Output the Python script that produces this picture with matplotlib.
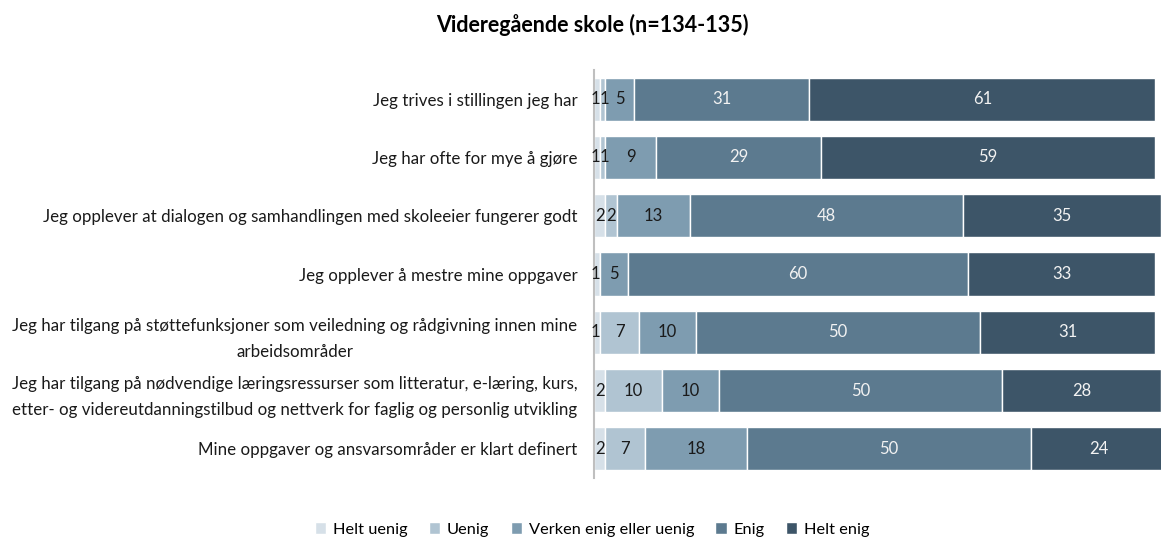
import matplotlib
matplotlib.use("Agg")
import matplotlib.pyplot as plt
import numpy as np

plt.rcParams["font.family"] = ["Lato", "DejaVu Sans"]

# ── Data ─────────────────────────────────────────────────────────────────────

categories = [
    "Jeg trives i stillingen jeg har",
    "Jeg har ofte for mye å gjøre",
    "Jeg opplever at dialogen og samhandlingen med skoleeier fungerer godt",
    "Jeg opplever å mestre mine oppgaver",
    "Jeg har tilgang på støttefunksjoner som veiledning og rådgivning innen mine\narbeidsområder",
    "Jeg har tilgang på nødvendige læringsressurser som litteratur, e-læring, kurs,\n"
    "etter- og videreutdanningstilbud og nettverk for faglig og personlig utvikling",
    "Mine oppgaver og ansvarsområder er klart definert",
]
series_names = ["Helt uenig", "Uenig", "Verken enig eller uenig", "Enig", "Helt enig"]
helt_uenig = [1, 1, 2, 1, 1, 2, 2]
uenig = [1, 1, 2, 0, 7, 10, 7]
verken = [5, 9, 13, 5, 10, 10, 18]
enig = [31, 29, 48, 60, 50, 50, 50]
helt_enig = [61, 59, 35, 33, 31, 28, 24]

title = "Videregående skole (n=134-135)"

colors = ["#d6e0e8", "#b0c4d2", "#7e9cb0", "#5c7a8f", "#3d5568"]
text_colors = ["#1a1a1a", "#1a1a1a", "#1a1a1a", "#f2f2f2", "#f2f2f2"]

# ── Plot ─────────────────────────────────────────────────────────────────────

fig = plt.figure(figsize=(11.61, 5.39), dpi=100)
ax = fig.add_axes([594 / 1161, 1 - 478 / 539, 1 - 594 / 1161, 408 / 539])

y = np.arange(len(categories))
left = np.zeros(len(categories))
for k, (name, vals, col, tcol) in enumerate(zip(
        series_names, [helt_uenig, uenig, verken, enig, helt_enig],
        colors, text_colors)):
    vals = np.array(vals, dtype=float)
    ax.barh(y, vals, left=left, height=0.74, color=col, edgecolor="white",
            linewidth=1, label=name)
    for yi, (l, v) in enumerate(zip(left, vals)):
        if v <= 0:
            continue
        x, ha = l + v / 2, "center"
        # tiny 1% segments: push the two labels apart so they sit side by side
        if v <= 1 and k == 0:
            x, ha = l + v + 0.15, "right"
        elif v <= 1 and k == 1:
            x, ha = l - 0.05, "left"
        ax.text(x, yi, f"{int(v)}", ha=ha, va="center",
                fontsize=12, color=tcol)
    left += vals

ax.set_xlim(0, 100)
ax.set_ylim(len(categories) - 0.5, -0.5)
ax.set_yticks(y)
ax.set_yticklabels(categories, fontsize=12.2, multialignment="center",
                   linespacing=1.75, color="#1a1a1a")
ax.tick_params(axis="y", length=0, pad=12)
ax.set_xticks([])
for s in ["top", "right", "bottom"]:
    ax.spines[s].set_visible(False)
ax.spines["left"].set_color("#bfbfbf")
ax.spines["left"].set_linewidth(1.5)

fig.text(0.51, 0.953, title, ha="center", va="center", fontsize=15.5,
         fontweight="bold")

fig.legend(loc="center", bbox_to_anchor=(0.51, 0.018), ncol=5, frameon=False,
           fontsize=11.8, handlelength=0.7, handleheight=0.7, handletextpad=0.4,
           columnspacing=1.3)

fig.savefig("out.png", dpi=100)
